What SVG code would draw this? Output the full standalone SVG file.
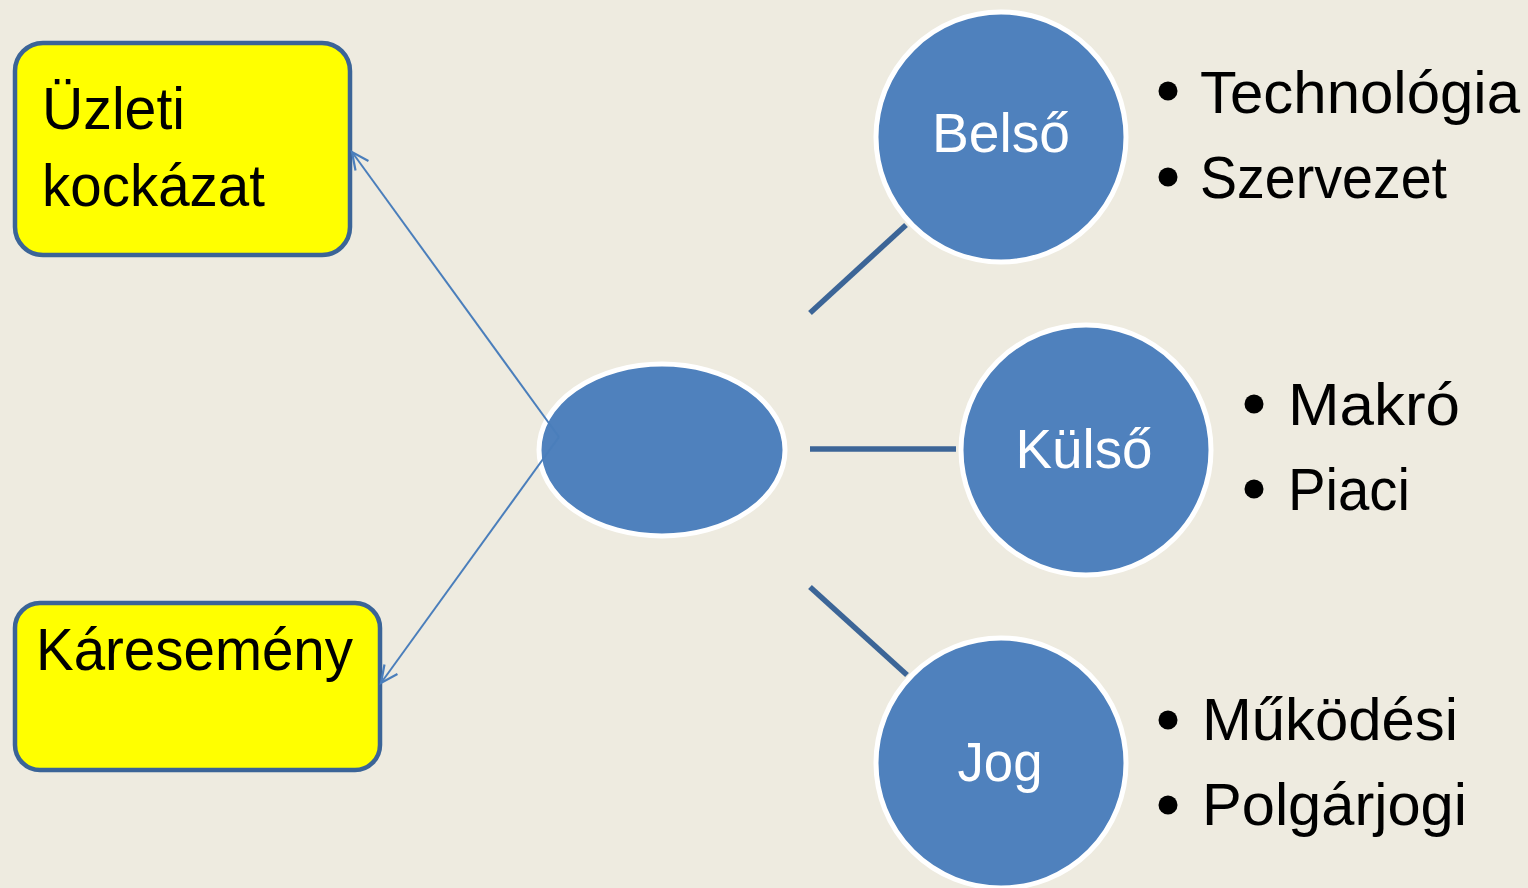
<svg xmlns="http://www.w3.org/2000/svg" width="1528" height="888" viewBox="0 0 1528 888">
<defs>
<style>
.box{fill:#FFFF00;stroke:#3B6497;stroke-width:4.5}
.blob{fill:#4F81BD;stroke:#FFFFFF;stroke-width:5}
.thick{stroke:#3C6597;stroke-width:5.5;fill:none}
.thin{stroke:#4A7EBB;stroke-width:2;fill:none;marker-end:url(#open)}
.dark{font-family:"Liberation Sans",Arial,sans-serif;font-size:60px;fill:#000}
.light{font-family:"Liberation Sans",Arial,sans-serif;font-size:56px;fill:#FFF}
.bullet{fill:#000}
</style>
<marker id="open" markerUnits="userSpaceOnUse" markerWidth="40" markerHeight="40" viewBox="-20 -20 40 40" refX="0" refY="0" orient="auto">
<path d="M-17,-8 L0,0 L-17,8" fill="none" stroke="#4A7EBB" stroke-width="2.2"/>
</marker>
</defs>
<rect width="1528" height="888" fill="#EEEBE0"/>

<g id="node-uzleti">
<rect class="box" x="15" y="43" width="335" height="212" rx="28"/>
<text class="dark" x="42" y="129" textLength="143" lengthAdjust="spacingAndGlyphs">Üzleti</text>
<text class="dark" x="42" y="206" textLength="223" lengthAdjust="spacingAndGlyphs">kockázat</text>
</g>

<g id="node-karesemeny">
<rect class="box" x="15" y="603" width="365" height="167" rx="25"/>
<text class="dark" x="36" y="670" textLength="317" lengthAdjust="spacingAndGlyphs">Káresemény</text>
</g>

<g id="node-center">
<ellipse class="blob" cx="662" cy="450" rx="123" ry="86"/>
</g>

<g id="node-belso">
<circle class="blob" cx="1001" cy="137" r="125"/>
<text class="light" x="1001" y="152" text-anchor="middle" textLength="138" lengthAdjust="spacingAndGlyphs">Belső</text>
</g>

<g id="node-kulso">
<circle class="blob" cx="1086" cy="450" r="125"/>
<text class="light" x="1084" y="468" text-anchor="middle" textLength="137" lengthAdjust="spacingAndGlyphs">Külső</text>
</g>

<g id="node-jog">
<circle class="blob" cx="1001" cy="763" r="125"/>
<text class="light" x="1000" y="781" text-anchor="middle" textLength="85" lengthAdjust="spacingAndGlyphs">Jog</text>
</g>

<g id="list-belso">
<circle class="bullet" cx="1168" cy="91" r="9.5"/>
<text class="dark" x="1200" y="113" textLength="320" lengthAdjust="spacingAndGlyphs">Technológia</text>
<circle class="bullet" cx="1168" cy="177" r="9.5"/>
<text class="dark" x="1200" y="198" textLength="247" lengthAdjust="spacingAndGlyphs">Szervezet</text>
</g>

<g id="list-kulso">
<circle class="bullet" cx="1254" cy="404" r="9.5"/>
<text class="dark" x="1288" y="425" textLength="172" lengthAdjust="spacingAndGlyphs">Makró</text>
<circle class="bullet" cx="1254" cy="489" r="9.5"/>
<text class="dark" x="1288" y="510" textLength="122" lengthAdjust="spacingAndGlyphs">Piaci</text>
</g>

<g id="list-jog">
<circle class="bullet" cx="1168" cy="720" r="9.5"/>
<text class="dark" x="1202" y="740" textLength="256" lengthAdjust="spacingAndGlyphs">Működési</text>
<circle class="bullet" cx="1168" cy="805" r="9.5"/>
<text class="dark" x="1202" y="825" textLength="265" lengthAdjust="spacingAndGlyphs">Polgárjogi</text>
</g>

<g id="connectors">
<line class="thick" x1="810" y1="313" x2="906" y2="225"/>
<line class="thick" x1="810" y1="449" x2="956" y2="449"/>
<line class="thick" x1="810" y1="587" x2="907" y2="675"/>
<line class="thin" x1="559" y1="437" x2="352" y2="152"/>
<line class="thin" x1="559" y1="437" x2="381" y2="683"/>
</g>
</svg>
